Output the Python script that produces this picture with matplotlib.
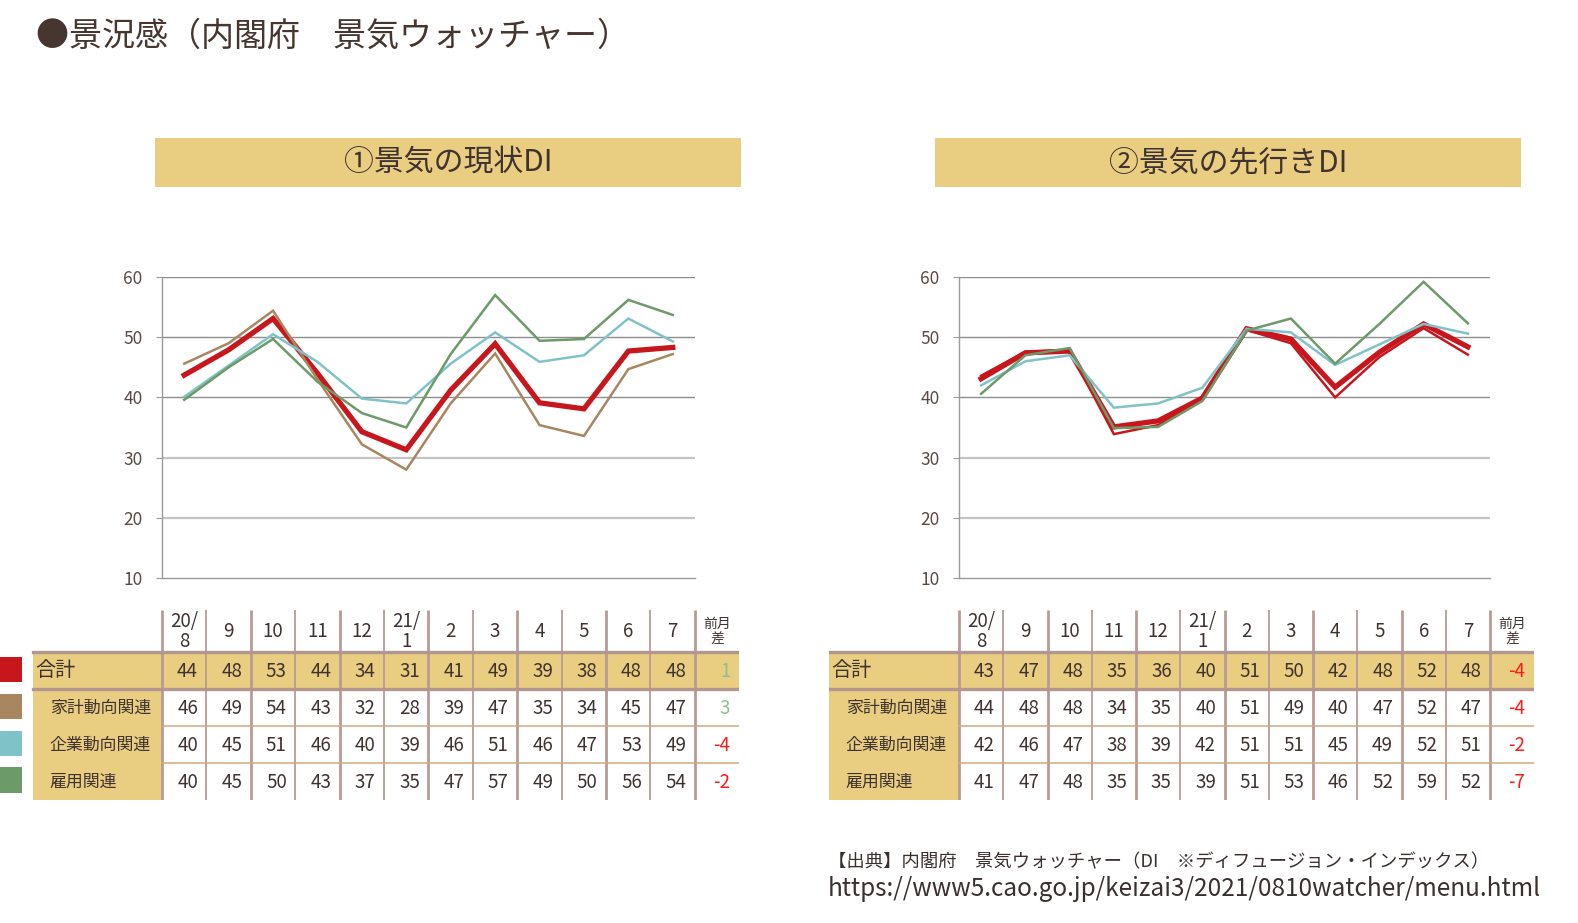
import matplotlib
matplotlib.use("Agg")
import matplotlib.pyplot as plt
from matplotlib.patches import Rectangle

plt.rcParams['font.family'] = ['Noto Sans CJK JP', 'DejaVu Sans']

# ── data ──
months = ["20/\n8", "9", "10", "11", "12", "21/\n1", "2", "3", "4", "5", "6", "7"]
row_names = ["合計", "家計動向関連", "企業動向関連", "雇用関連"]

# ① current DI (table values)
cur_total = [44, 48, 53, 44, 34, 31, 41, 49, 39, 38, 48, 48]
cur_house = [46, 49, 54, 43, 32, 28, 39, 47, 35, 34, 45, 47]
cur_corp  = [40, 45, 51, 46, 40, 39, 46, 51, 46, 47, 53, 49]
cur_emp   = [40, 45, 50, 43, 37, 35, 47, 57, 49, 50, 56, 54]
cur_diff  = [1, 3, -4, -2]
# ① current DI (unrounded)
cur_total_line = [43.7, 47.9, 53.1, 44.0, 34.3, 31.3, 41.2, 48.9, 39.1, 38.1, 47.7, 48.3]
cur_house_line = [45.6, 49.0, 54.4, 43.0, 32.2, 28.0, 39.0, 47.3, 35.4, 33.6, 44.7, 47.2]
cur_corp_line  = [40.1, 45.3, 50.5, 45.9, 39.8, 39.0, 45.6, 50.8, 45.9, 47.0, 53.1, 49.3]
cur_emp_line   = [39.6, 45.0, 49.7, 42.6, 37.4, 35.0, 47.2, 57.0, 49.4, 49.7, 56.2, 53.7]

# ② outlook DI (table values)
fut_total = [43, 47, 48, 35, 36, 40, 51, 50, 42, 48, 52, 48]
fut_house = [44, 48, 48, 34, 35, 40, 51, 49, 40, 47, 52, 47]
fut_corp  = [42, 46, 47, 38, 39, 42, 51, 51, 45, 49, 52, 51]
fut_emp   = [41, 47, 48, 35, 35, 39, 51, 53, 46, 52, 59, 52]
fut_diff  = [-4, -4, -2, -7]
# ② outlook DI (unrounded)
fut_total_line = [43.1, 47.4, 47.7, 35.1, 36.1, 39.9, 51.4, 49.7, 41.7, 47.5, 52.2, 48.4]
fut_house_line = [43.6, 47.6, 47.8, 33.9, 35.4, 39.8, 51.2, 49.0, 40.0, 46.7, 51.5, 47.1]
fut_corp_line  = [42.0, 46.0, 47.0, 38.3, 39.0, 41.6, 51.4, 50.8, 45.4, 48.8, 52.2, 50.6]
fut_emp_line   = [40.6, 47.0, 48.2, 34.9, 35.1, 39.4, 51.1, 53.1, 45.6, 52.2, 59.2, 52.3]

y_ticks = [10, 20, 30, 40, 50, 60]

# ── style ──
W, H = 1578, 923
gold = "#e9cd80"
txt = "#3f3331"
red, brown, cyan, green = "#c8161d", "#a8865f", "#7fc3c8", "#6c9a68"
vline_col = "#b89b94"
thin_row_col = "#d2a87c"


def px_axes(fig, x0, y0, x1, y1, **kw):
    return fig.add_axes([x0 / W, 1 - y1 / H, (x1 - x0) / W, (y1 - y0) / H], **kw)


fig = plt.figure(figsize=(W / 100, H / 100), dpi=100)
fig.patch.set_facecolor("white")

# ── main title ──
fig.text(36 / W, 1 - 36 / H, "●景況感（内閣府　景気ウォッチャー）",
         fontsize=23.8, color="#46362f", va="center", ha="left")


def draw_chart(x0, x1, banner, title, series):
    # banner
    bx = px_axes(fig, banner[0], 138, banner[1], 187)
    bx.set_xlim(0, 1); bx.set_ylim(0, 1)
    bx.add_patch(Rectangle((0, 0), 1, 1, color=gold))
    bx.text(0.5, 0.5, title, ha="center", va="center", fontsize=21.5, color=txt)
    bx.axis("off")

    ax = px_axes(fig, x0, 277, x1, 578)
    ax.set_xlim(-0.5, 11.5)
    ax.set_ylim(10, 60)
    for t in y_ticks[1:]:
        if t >= 40:
            ax.axhline(t, color="#8e8e8e", lw=1.0, zorder=1)
        else:
            ax.axhline(t, color="#c4c4c4", lw=1.6, zorder=1)
    for vals, col, lw in series:
        ax.plot(range(len(vals)), vals, color=col, lw=lw, zorder=3,
                solid_joinstyle="miter")
    ax.set_xticks([])
    ax.set_yticks(y_ticks)
    ax.tick_params(axis="y", length=4, color="#9a9a9a", labelsize=12.5,
                   labelcolor="#5a4a46", pad=10)
    for s in ["top", "right"]:
        ax.spines[s].set_visible(False)
    for s in ["left", "bottom"]:
        ax.spines[s].set_color("#9a9a9a")
        ax.spines[s].set_linewidth(1.0)
    ax.set_facecolor("none")


def draw_table(x_left, x_data, col_w, rows, diffs, swatches=None):
    # table axes: x in column units, column i spans i-0.5 .. i+0.5
    lw_units = (x_data - x_left) / col_w
    x_right = x_data + 13 * col_w
    sw_px = 33 if swatches else 0
    ax = px_axes(fig, x_left - sw_px, 610, x_right, 800)
    ax.set_xlim(-0.5 - lw_units - sw_px / col_w, 12.5)
    ax.set_ylim(4, -1.14)
    ax.axis("off")
    lab0 = -0.5 - lw_units

    # label column and total row fill
    ax.add_patch(Rectangle((lab0, 0), lw_units, 4, color=gold, lw=0))
    ax.add_patch(Rectangle((lab0, 0), lw_units + 13, 1, color=gold, lw=0))

    # swatches
    if swatches:
        s0 = -0.5 - lw_units - sw_px / col_w
        for i, c in enumerate(swatches):
            ax.add_patch(Rectangle((s0, i + 0.12), 22 / col_w, 0.68, color=c, lw=0))

    # header
    for i, m in enumerate(months):
        ax.text(i, -0.55, m, ha="center", va="center", fontsize=13.5,
                color=txt, linespacing=0.92)
    ax.text(12, -0.55, "前月\n差", ha="center", va="center", fontsize=10,
            color=txt, linespacing=1.1)

    # rows
    for r, (name, vals) in enumerate(zip(row_names, rows)):
        if r == 0:
            ax.text(lab0 + 0.06, 0.5, name, ha="left", va="center",
                    fontsize=14.5, color=txt)
        else:
            ax.text(lab0 + 0.38, r + 0.5, name, ha="left", va="center",
                    fontsize=12.2, color=txt)
        for i, v in enumerate(vals):
            ax.text(i + 0.31, r + 0.52, str(v), ha="right", va="center",
                    fontsize=13.5, color=txt)
        d = diffs[r]
        ax.text(12 + 0.3, r + 0.52, str(d), ha="right", va="center",
                fontsize=13.5, color="#8fbf8c" if d > 0 else "#ff1a1a")

    # grid lines
    for k in range(13):
        ax.plot([k - 0.5, k - 0.5], [-1.14, 4], color=vline_col,
                lw=2.0 if k % 2 == 0 else 1.3, solid_capstyle="butt")
    ax.plot([lab0, 12.5], [0, 0], color="#b3968e", lw=2.4)
    ax.plot([lab0, 12.5], [1, 1], color="#b3968e", lw=2.4)
    for r in (2, 3):
        ax.plot([-0.5, 12.5], [r, r], color=thin_row_col, lw=1.1)


# left: current DI
draw_chart(162, 695, (155, 741), "①景気の現状DI",
           [(cur_total_line, red, 3.8), (cur_house_line, brown, 1.8),
            (cur_corp_line, cyan, 1.8), (cur_emp_line, green, 1.8)])
draw_table(33, 162, 44.4, [cur_total, cur_house, cur_corp, cur_emp], cur_diff,
           swatches=[red, brown, cyan, green])

# right: outlook DI
draw_chart(959, 1490, (935, 1521), "②景気の先行きDI",
           [(fut_total_line, red, 3.8), (fut_house_line, red, 1.8),
            (fut_corp_line, cyan, 1.8), (fut_emp_line, green, 1.8)])
draw_table(829, 959, 44.25, [fut_total, fut_house, fut_corp, fut_emp], fut_diff)

# ── source ──
fig.text(828 / W, 1 - 862 / H,
         "【出典】内閣府　景気ウォッチャー（DI　※ディフュージョン・インデックス）",
         fontsize=13.2, color="#3a302e", va="center", ha="left")
fig.text(828 / W, 1 - 889 / H,
         "https://www5.cao.go.jp/keizai3/2021/0810watcher/menu.html",
         fontsize=17.5, color="#3a302e", va="center", ha="left")

fig.savefig("out.png", dpi=100, facecolor="white")
